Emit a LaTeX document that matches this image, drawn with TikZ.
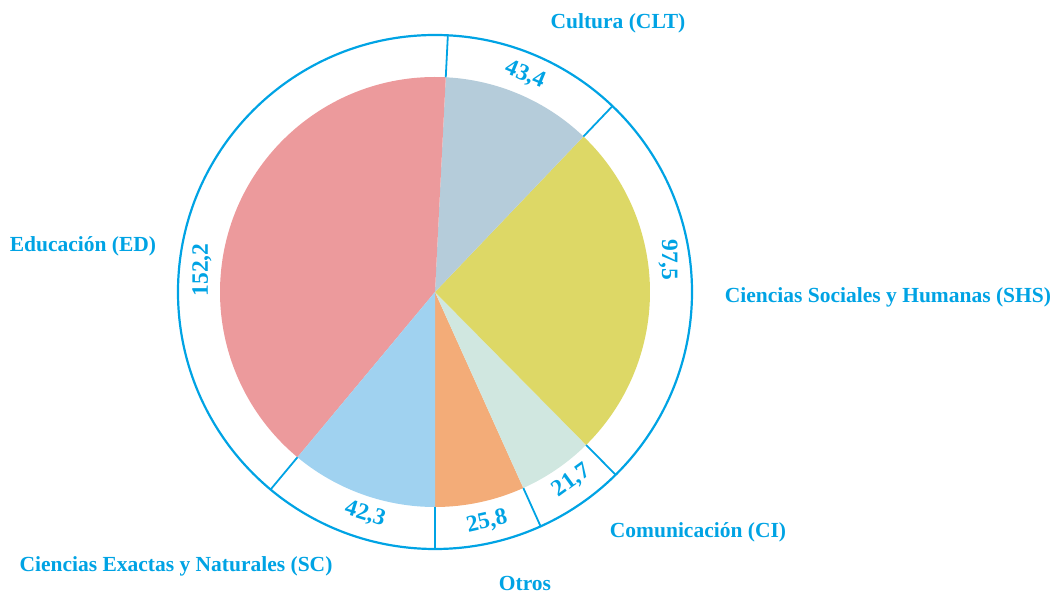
\documentclass[tikz,border=0pt]{standalone}
\usepackage{fontspec}
\setmainfont{Liberation Serif}
\usepackage{tikz}
\usetikzlibrary{positioning,calc}
\definecolor{lineblue}{RGB}{0,163,228}
\definecolor{cltcol}{RGB}{181,204,218}
\definecolor{shscol}{RGB}{221,216,102}
\definecolor{cicol}{RGB}{208,231,224}
\definecolor{otroscol}{RGB}{243,172,120}
\definecolor{sccol}{RGB}{160,210,240}
\definecolor{edcol}{RGB}{236,154,156}

\begin{document}
\begin{tikzpicture}[x=1pt, y=1pt]
    % Styles
    \tikzstyle{area} = [font=\bfseries\fontsize{21.5}{23}\selectfont, text=lineblue, inner sep=0pt]
    \tikzstyle{value} = [font=\bfseries\fontsize{23.5}{25}\selectfont, text=lineblue, inner sep=0pt]
    \tikzstyle{ring} = [draw=lineblue, line width=2.2pt]
    \useasboundingbox (-435,-301) rectangle (625,292);

    % Slices
    \coordinate (O) at (0,0);
    \fill [otroscol] (O) -- (-90:215) arc [start angle=-90, end angle=-65.74, radius=215] -- cycle;
    \fill [cicol] (O) -- (-65.74:215) arc [start angle=-65.74, end angle=-45.34, radius=215] -- cycle;
    \fill [shscol] (O) -- (-45.34:215) arc [start angle=-45.34, end angle=46.33, radius=215] -- cycle;
    \fill [cltcol] (O) -- (46.33:215) arc [start angle=46.33, end angle=87.13, radius=215] -- cycle;
    \fill [edcol] (O) -- (87.13:215) arc [start angle=87.13, end angle=230.23, radius=215] -- cycle;
    \fill [sccol] (O) -- (230.23:215) arc [start angle=230.23, end angle=270, radius=215] -- cycle;

    % Ring
    \draw [ring] (O) circle [radius=257];
    \foreach \ang in {-90,-65.74,-45.34,46.33,87.13,230.23}
        \draw [ring, line width=1.8pt] (\ang:215) -- (\ang:257);

    % Values
    \node [value, rotate=-22.5] (vclt) at (90,217) {43,4};
    \node [value, rotate=-90] (vshs) at (233,32) {97,5};
    \node [value, rotate=36] (vci) at (137,-189) {21,7};
    \node [value, rotate=12.7] (votros) at (52,-230) {25,8};
    \node [value, rotate=-17.5] (vsc) at (-70,-222) {42,3};
    \node [value, rotate=90] (ved) at (-233,22) {152,2};

    % Areas
    \node [area] (clt) at (183,269) {Cultura (CLT)};
    \node [area] (shs) at (453,-5) {Ciencias Sociales y Humanas (SHS)};
    \node [area] (ci) at (263,-240) {Comunicación (CI)};
    \node [area] (otros) at (90,-291) {Otros};
    \node [area] (sc) at (-259,-274) {Ciencias Exactas y Naturales (SC)};
    \node [area] (ed) at (-352,46) {Educación (ED)};
\end{tikzpicture}
\end{document}
